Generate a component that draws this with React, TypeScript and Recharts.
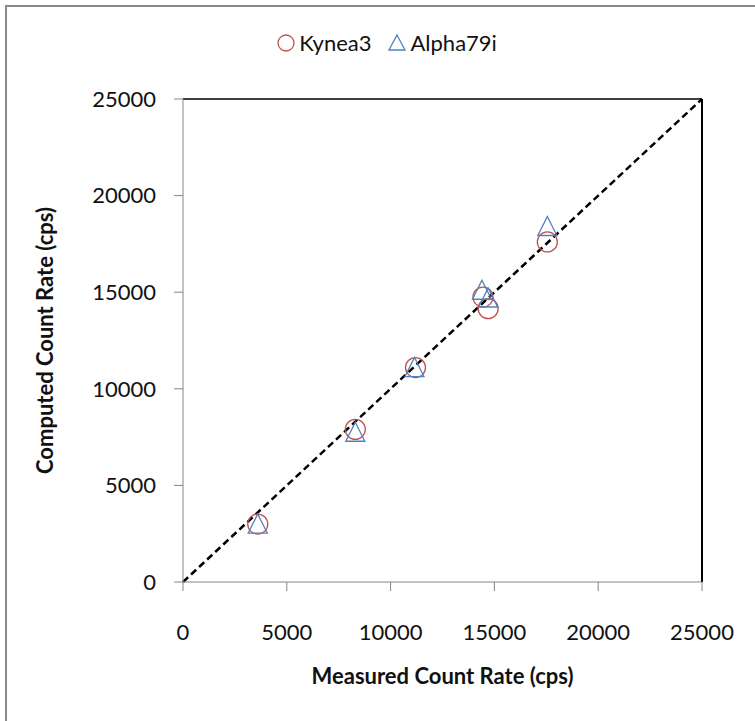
import { ScatterChart, Scatter, XAxis, YAxis, ReferenceLine, Legend } from "recharts";

// measured (x) vs computed (y) count rates, cps
const kyneaMeasured = [3600, 8300, 11200, 14450, 14700, 17550];
const kyneaComputed = [3000, 7900, 11100, 14750, 14150, 17600];
const alphaMeasured = [3600, 8300, 11150, 14400, 14700, 17550];
const alphaComputed = [3000, 7750, 11100, 15100, 14700, 18400];
const axisTicks = [0, 5000, 10000, 15000, 20000, 25000];
const identityLine = [{ x: 0, y: 0 }, { x: 25000, y: 25000 }];

const kynea = kyneaMeasured.map((x, i) => ({ x, y: kyneaComputed[i] }));
const alpha = alphaMeasured.map((x, i) => ({ x, y: alphaComputed[i] }));

const RED = "#C0504D";
const BLUE = "#4F81BD";
const FONT = "Lato, 'Open Sans', sans-serif";

const CircleMark = (props: any) => (
    <circle cx={props.cx} cy={props.cy} r={10} fill="none" stroke={RED} strokeWidth={1.3} />
);

const TriangleMark = (props: any) => {
    const { cx, cy } = props;
    return (
        <path
            d={`M${cx},${cy - 10} L${cx + 9.5},${cy + 9} L${cx - 9.5},${cy + 9} Z`}
            fill="none"
            stroke={BLUE}
            strokeWidth={1.3}
        />
    );
};

const LegendBox = () => (
    <div style={{ display: "flex", justifyContent: "center", alignItems: "center", fontFamily: FONT, fontSize: 22, color: "#111", paddingLeft: 18 }}>
        <svg width={20} height={20} style={{ marginRight: 3 }}>
            <circle cx={10} cy={10} r={8} fill="none" stroke={RED} strokeWidth={1.3} />
        </svg>
        <span style={{ marginRight: 16 }}>Kynea3</span>
        <svg width={20} height={20} style={{ marginRight: 3 }}>
            <path d="M10,2 L18,17 L2,17 Z" fill="none" stroke={BLUE} strokeWidth={1.3} />
        </svg>
        <span>Alpha79i</span>
    </div>
);

const YTitle = (props: any) => {
    const vb = props.viewBox || {};
    const cy = (vb.y ?? 99) + (vb.height ?? 483) / 2;
    const cx = 44;
    return (
        <text
            x={cx}
            y={cy}
            transform={`rotate(-90 ${cx} ${cy})`}
            textAnchor="middle"
            dominantBaseline="central"
            fontFamily={FONT}
            fontSize={22}
            fontWeight="bold"
            fill="#111"
        >
            Computed Count Rate (cps)
        </text>
    );
};

export default function App() {
    return (
        <div style={{ position: "absolute", left: 0, top: 0, width: 755, height: 721, overflow: "hidden", background: "#fff" }}>
            <div style={{ position: "absolute", left: 5, top: 5, width: 800, height: 800, border: "2px solid #8a8a8a" }} />
            <div style={{ position: "absolute", left: 0, top: 0 }}>
                <ScatterChart width={755} height={721} margin={{ top: 99, right: 53, bottom: 0, left: 0 }}>
                    <XAxis
                        type="number"
                        dataKey="x"
                        domain={[0, 25000]}
                        ticks={axisTicks}
                        height={139}
                        tickSize={9}
                        tickMargin={33}
                        stroke="#868686"
                        tick={{ fill: "#111", fontSize: 22, fontFamily: FONT }}
                        label={{ value: "Measured Count Rate (cps)", position: "insideBottom", offset: 37, fontSize: 22, fontWeight: "bold", fontFamily: FONT, fill: "#111" }}
                    />
                    <YAxis
                        type="number"
                        dataKey="y"
                        domain={[0, 25000]}
                        ticks={axisTicks}
                        width={183}
                        tickSize={9}
                        tickMargin={18}
                        stroke="#868686"
                        tick={{ fill: "#111", fontSize: 22, fontFamily: FONT }}
                        label={<YTitle />}
                    />
                    <Legend
                        layout="horizontal"
                        verticalAlign="middle"
                        align="center"
                        content={<LegendBox />}
                        wrapperStyle={{ top: 29, left: 0, width: 755 }}
                    />
                    <ReferenceLine y={25000} stroke="#000" strokeWidth={1.5} />
                    <ReferenceLine x={25000} stroke="#000" strokeWidth={2} />
                    <Scatter name="Kynea3" data={kynea} shape={CircleMark} isAnimationActive={false} />
                    <Scatter name="Alpha79i" data={alpha} shape={TriangleMark} isAnimationActive={false} />
                    <ReferenceLine segment={identityLine} stroke="#000" strokeWidth={2.5} strokeDasharray="7 4" />
                </ScatterChart>
            </div>
        </div>
    );
}
